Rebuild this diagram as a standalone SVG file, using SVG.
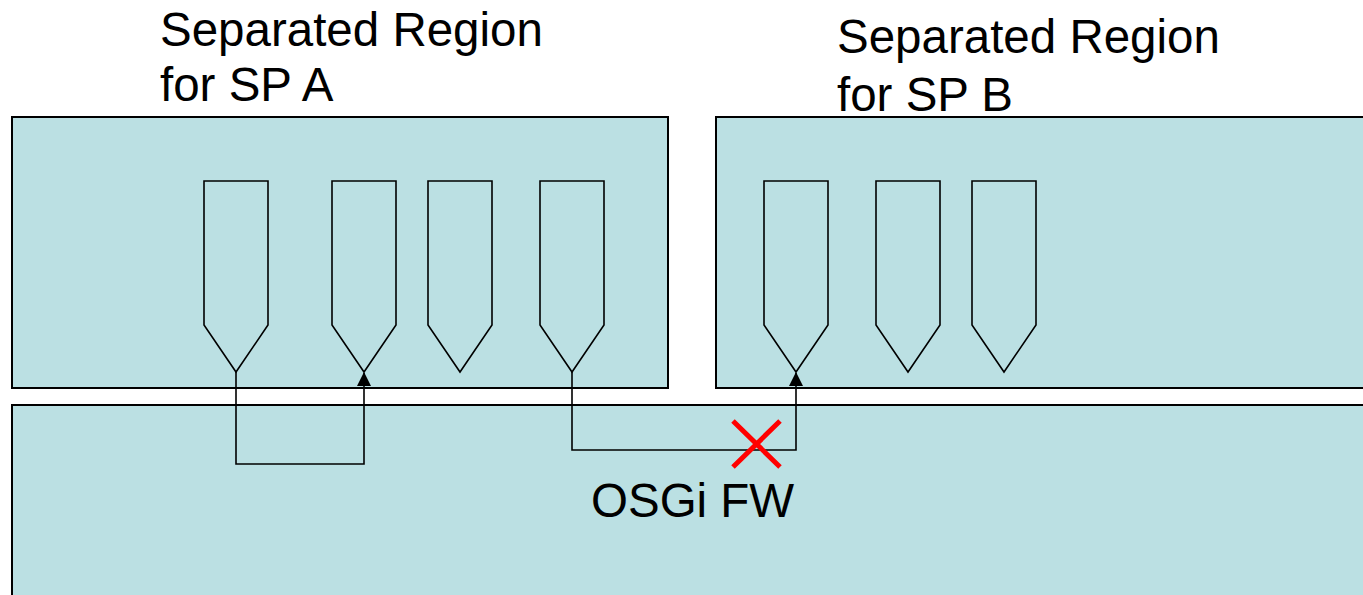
<svg xmlns="http://www.w3.org/2000/svg" width="1363" height="595" viewBox="0 0 1363 595">
<style>
.region{fill:#BBE0E3;stroke:#000;stroke-width:2}
.bundle{fill:#BBE0E3;stroke:#000;stroke-width:1.6}
.lbl{font-family:"Liberation Sans",Arial,sans-serif;font-size:47.5px;fill:#000}
.conn{fill:none;stroke:#000;stroke-width:1.6}
</style>
<defs>
<marker id="arr" markerWidth="14" markerHeight="14" refX="13" refY="7" orient="auto" markerUnits="userSpaceOnUse" viewBox="0 0 14 14">
<path d="M14,7 L0,0 L0,14 Z" fill="#000"/>
</marker>
</defs>
<rect width="1363" height="595" fill="#fff"/>
<g id="osgi-fw">
<rect class="region" x="12" y="405" width="1360" height="200"/>
<text class="lbl" x="591" y="517">OSGi FW</text>
</g>
<g id="region-a">
<rect class="region" x="12" y="117" width="656" height="271"/>
<text class="lbl" x="160" y="46">Separated Region</text>
<text class="lbl" x="160" y="101">for SP A</text>
</g>
<g id="region-b">
<rect class="region" x="716" y="117" width="660" height="271"/>
<text class="lbl" x="837" y="53">Separated Region</text>
<text class="lbl" x="837" y="111">for SP B</text>
</g>
<g id="bundle-a1"><path class="bundle" d="M204,181 H268 V325 L236,372 L204,325 Z"/></g>
<g id="bundle-a2"><path class="bundle" d="M332,181 H396 V325 L364,372 L332,325 Z"/></g>
<g id="bundle-a3"><path class="bundle" d="M428,181 H492 V325 L460,372 L428,325 Z"/></g>
<g id="bundle-a4"><path class="bundle" d="M540,181 H604 V325 L572,372 L540,325 Z"/></g>
<g id="bundle-b1"><path class="bundle" d="M764,181 H828 V325 L796,372 L764,325 Z"/></g>
<g id="bundle-b2"><path class="bundle" d="M876,181 H940 V325 L908,372 L876,325 Z"/></g>
<g id="bundle-b3"><path class="bundle" d="M972,181 H1036 V325 L1004,372 L972,325 Z"/></g>
<g id="connectors">
<path class="conn" d="M236,372 V464 H364 V373" marker-end="url(#arr)"/>
<path class="conn" d="M572,372 V450 H796 V373" marker-end="url(#arr)"/>
<path d="M733,421 L780,467 M780,421 L733,467" stroke="#FF0000" stroke-width="5" fill="none"/>
</g>
</svg>
